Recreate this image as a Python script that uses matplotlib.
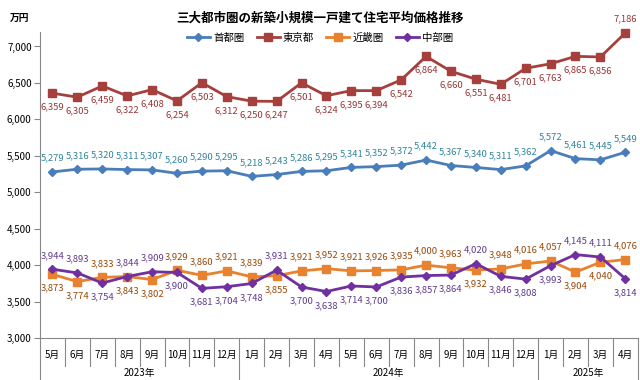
import numpy as np
import matplotlib
matplotlib.use("Agg")
from matplotlib import pyplot as plt
import matplotlib.transforms as mtransforms

plt.rcParams['font.family'] = ['Noto Sans CJK JP', 'DejaVu Sans']

# data (万円)
months = ['5月', '6月', '7月', '8月', '9月', '10月', '11月', '12月',
          '1月', '2月', '3月', '4月', '5月', '6月', '7月', '8月', '9月', '10月', '11月', '12月',
          '1月', '2月', '3月', '4月']
years = ['2023年', '2024年', '2025年']
year_counts = [8, 12, 4]

shuto = [5279, 5316, 5320, 5311, 5307, 5260, 5290, 5295, 5218, 5243, 5286, 5295,
         5341, 5352, 5372, 5442, 5367, 5340, 5311, 5362, 5572, 5461, 5445, 5549]
tokyo = [6359, 6305, 6459, 6322, 6408, 6254, 6503, 6312, 6250, 6247, 6501, 6324,
         6395, 6394, 6542, 6864, 6660, 6551, 6481, 6701, 6763, 6865, 6856, 7186]
kinki = [3873, 3774, 3833, 3843, 3802, 3929, 3860, 3921, 3839, 3855, 3921, 3952,
         3921, 3926, 3935, 4000, 3963, 3932, 3948, 4016, 4057, 3904, 4040, 4076]
chubu = [3944, 3893, 3754, 3844, 3909, 3900, 3681, 3704, 3748, 3931, 3700, 3638,
         3714, 3700, 3836, 3857, 3864, 4020, 3846, 3808, 3993, 4145, 4111, 3814]

x = np.arange(len(months))

fig = plt.figure(figsize=(6.4, 3.8), dpi=100)
ax = fig.add_axes([0.0625, 0.1105, 0.934, 0.8055])

series = [
    ('首都圏', shuto, '#4A7EBB', 'D', 4.5),
    ('東京都', tokyo, '#A5403D', 's', 5.5),
    ('近畿圏', kinki, '#E8822E', 's', 5.5),
    ('中部圏', chubu, '#7030A0', 'D', 4.5),
]
for name, vals, col, mk, ms in series:
    ax.plot(x, vals, color=col, lw=2, marker=mk, ms=ms, label=name, clip_on=False, zorder=3)

def label(vals, lcol, above):
    for i, v in enumerate(vals):
        ax.annotate(f'{v:,}', (i, v), xytext=(0, 10 if above[i] else -10), textcoords='offset points',
                    ha='center', va='center', fontsize=6.8, color=lcol, annotation_clip=False)

label(shuto, '#31849B', [True] * 24)
label(tokyo, '#953735', [False] * 23 + [True])
label(kinki, '#984807', [k > c for k, c in zip(kinki, chubu)])
label(chubu, '#5F3B8C', [c > k for k, c in zip(kinki, chubu)])

ax.set_xlim(-0.5, len(months) - 0.5)
ax.set_ylim(3000, 7200)
ax.set_yticks(np.arange(3000, 7001, 500))
ax.set_yticklabels([f'{t:,}' for t in range(3000, 7001, 500)])
ax.tick_params(axis='y', labelsize=7, length=4, color='#888888', pad=2)
ax.set_xticks([])
for s in ['top', 'right']:
    ax.spines[s].set_visible(False)
for s in ['left', 'bottom']:
    ax.spines[s].set_color('#888888')

# multi-level category axis (months / years)
trans = mtransforms.blended_transform_factory(ax.transData, fig.transFigure)
y0 = 1 - 338 / 380
for i, m in enumerate(months):
    ax.text(i, 1 - 355 / 380, m, transform=trans, ha='center', va='center', fontsize=7)
year_edges = np.cumsum([0] + year_counts) - 0.5
for i in range(len(months) + 1):
    xe = i - 0.5
    bottom = 0.0 if xe in year_edges else 1 - 366 / 380
    ax.plot([xe, xe], [y0, bottom], transform=trans, color='#888888', lw=0.8, clip_on=False)
for j, yr in enumerate(years):
    xc = (year_edges[j] + year_edges[j + 1]) / 2
    ax.text(xc, 1 - 373 / 380, yr, transform=trans, ha='center', va='center', fontsize=7)

fig.text(0.5, 1 - 18 / 380, '三大都市圏の新築小規模一戸建て住宅平均価格推移', ha='center', va='center',
         fontsize=9, fontweight='bold')
fig.text(0.03, 1 - 18 / 380, '万円', ha='center', va='center', fontsize=7, fontweight='bold')
fig.legend(loc='center', bbox_to_anchor=(0.5, 1 - 38 / 380), ncol=4, frameon=False, fontsize=7.5,
           handlelength=2.2, handletextpad=0.3, columnspacing=1.2)

fig.savefig('out.png', dpi=100)
